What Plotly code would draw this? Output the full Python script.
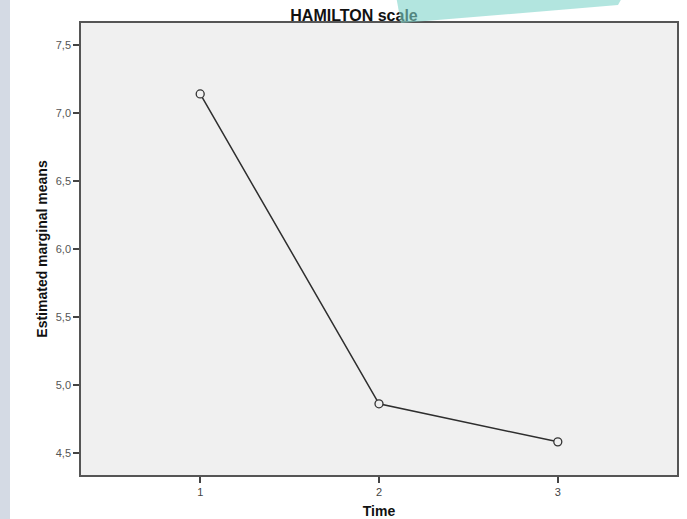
import plotly.graph_objects as go

# ---- data ----
time_points = [1, 2, 3]
marginal_means = [7.14, 4.86, 4.58]
x_tick_vals = [1, 2, 3]
x_tick_labels = ["1", "2", "3"]
y_tick_vals = [4.5, 5.0, 5.5, 6.0, 6.5, 7.0, 7.5]
y_tick_labels = ["4,5", "5,0", "5,5", "6,0", "6,5", "7,0", "7,5"]
chart_title = "HAMILTON scale"
x_title = "Time"
y_title = "Estimated marginal means"

# ---- geometry helpers (pixel -> paper) ----
W, H = 687, 519
L, R, T, B = 81, 10, 23, 44
PW, PH = W - L - R, H - T - B


def px(x):
    return (x - L) / PW


def py(y):
    return (H - B - y) / PH


FONT = "Liberation Sans, Arial, sans-serif"

fig = go.Figure(
    go.Scatter(
        x=time_points,
        y=marginal_means,
        mode="lines+markers",
        line=dict(color="#2e2e2e", width=1.5),
        marker=dict(symbol="circle", size=8, color="#f0f0f0",
                    line=dict(color="#333333", width=1.3)),
        showlegend=False,
    )
)

teal_pts = [(396, -4), (401, 23), (618, 5), (623, -4)]
teal_path = "M " + " L ".join(f"{px(a):.5f},{py(b):.5f}" for a, b in teal_pts) + " Z"

fig.update_layout(
    width=W,
    height=H,
    margin=dict(l=L, r=R, t=T, b=B, pad=0, autoexpand=False),
    paper_bgcolor="white",
    plot_bgcolor="#f0f0f0",
    font=dict(family=FONT, color="#444444"),
    shapes=[
        # left slide strip
        dict(type="rect", xref="paper", yref="paper", layer="below",
             x0=px(0), x1=px(10), y0=py(H + 2), y1=py(-2),
             fillcolor="#d4dae4", line=dict(width=0)),
        # title carrier (text drawn in shape layer so the overlay covers it)
        dict(type="rect", xref="paper", yref="paper", layer="above",
             x0=px(254), x1=px(454), y0=py(22), y1=py(4),
             fillcolor="rgba(0,0,0,0)", line=dict(width=0),
             label=dict(text=f"<b>{chart_title}</b>", textposition="middle center",
                        font=dict(family=FONT, size=16, color="#111111"))),
        # translucent teal decoration
        dict(type="path", xref="paper", yref="paper", layer="above",
             path=teal_path, fillcolor="rgba(127,212,202,0.6)", line=dict(width=0)),
    ],
)

fig.update_xaxes(
    range=[1 / 3, 11 / 3],
    automargin=False,
    tickvals=x_tick_vals,
    ticktext=x_tick_labels,
    ticks="outside", ticklen=6, tickwidth=1.5, tickcolor="#444444",
    tickfont=dict(size=11, color="#444444"),
    showline=True, mirror=True, linecolor="#555555", linewidth=1.5,
    showgrid=False, zeroline=False,
    title=dict(text=f"<b>{x_title}</b>", font=dict(size=14, color="#111111"), standoff=12),
)
fig.update_yaxes(
    range=[4.336, 7.662],
    automargin=False,
    tickvals=y_tick_vals,
    ticktext=y_tick_labels,
    ticks="outside", ticklen=6, tickwidth=1.5, tickcolor="#444444",
    tickfont=dict(size=11, color="#555555"),
    showline=True, mirror=True, linecolor="#555555", linewidth=1.5,
    showgrid=False, zeroline=False,
    title=dict(text=f"<b>{y_title}</b>", font=dict(size=14, color="#111111"), standoff=5),
)

fig.write_html("out.html",
               config={"displayModeBar": False},
               post_script="document.body.style.margin='0';document.body.style.overflow='hidden';")
